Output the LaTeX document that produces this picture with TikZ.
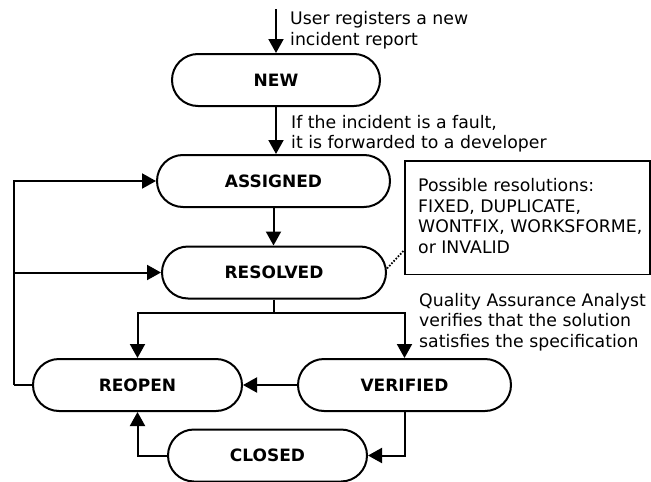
\documentclass[tikz,border=0pt]{standalone}
\usepackage{fontspec}
\setmainfont{DejaVu Sans}
\usetikzlibrary{arrows.meta,shapes.misc,calc}
\begin{document}
\begin{tikzpicture}[x=1pt,y=-1pt,
  state/.style={rounded rectangle, draw, line width=2pt, minimum height=52pt,
    inner sep=0pt, font=\fontsize{17}{20}\selectfont\bfseries},
  flow/.style={line width=2pt, -{Triangle[length=14pt,width=15pt]}},
  wire/.style={line width=2pt},
  remark/.style={inner sep=0pt, align=left, anchor=north west,
    font=\fontsize{17.3}{20.7}\selectfont},
  notebox/.style={draw, line width=1.8pt, minimum width=245pt,
    minimum height=113.5pt, anchor=north west, inner sep=0pt},
]
\useasboundingbox (0,0) rectangle (651,482);

% states of an incident report
\node[state, minimum width=208pt] (new)      at (276,80)      {NEW};
\node[state, minimum width=233pt] (assigned) at (273.5,181)   {ASSIGNED};
\node[state, minimum width=224pt] (resolved) at (274,272.5)   {RESOLVED};
\node[state, minimum width=209pt] (reopen)   at (137.5,385)   {REOPEN};
\node[state, minimum width=213pt] (verified) at (404.5,385)   {VERIFIED};
\node[state, minimum width=199pt] (closed)   at (267.5,455.5) {CLOSED};

% helper points for the connectors
\coordinate (entry) at (276,9);
\coordinate (loopbottom) at (14,385);
\coordinate (split) at (274,313);

% transitions
\draw[flow] (entry) -- (new.north);
\draw[flow] (new.south) -- (new.south |- assigned.north);
\draw[flow] (assigned.south) -- (assigned.south |- resolved.north);
\draw[wire] (reopen.west) -- (loopbottom);
\draw[flow] (loopbottom) |- (assigned.west);
\draw[flow] (loopbottom |- resolved.west) -- (resolved.west);
\draw[wire] (resolved.south) -- (split);
\draw[flow] (split) -| (reopen.north);
\draw[flow] (split) -| (verified.north);
\draw[flow] (verified.west) -- (reopen.east);
\draw[flow] (verified.south) |- (closed.east);
\draw[flow] (closed.west) -| (reopen.south);

% annotation box for the resolutions
\node[notebox] (note) at (404,160) {};
\draw[line width=1.8pt, dash pattern=on 1.6pt off 1.6pt]
  ($(resolved.east)+(0,-4)$) -- ($(note.south west)+(0,-25)$);

% explanatory texts
\node[remark] (lbl1) at (290,11.6)  {User registers a new\\incident report};
\node[remark] (lbl2) at (291,114.8) {If the incident is a fault,\\it is forwarded to a developer};
\node[remark] (lbl3) at (418,178)   {Possible resolutions:\\FIXED, DUPLICATE,\\WONTFIX, WORKSFORME,\\or INVALID};
\node[remark] (lbl4) at (419,292.8) {Quality Assurance Analyst\\verifies that the solution\\satisfies the specification};
\end{tikzpicture}
\end{document}
